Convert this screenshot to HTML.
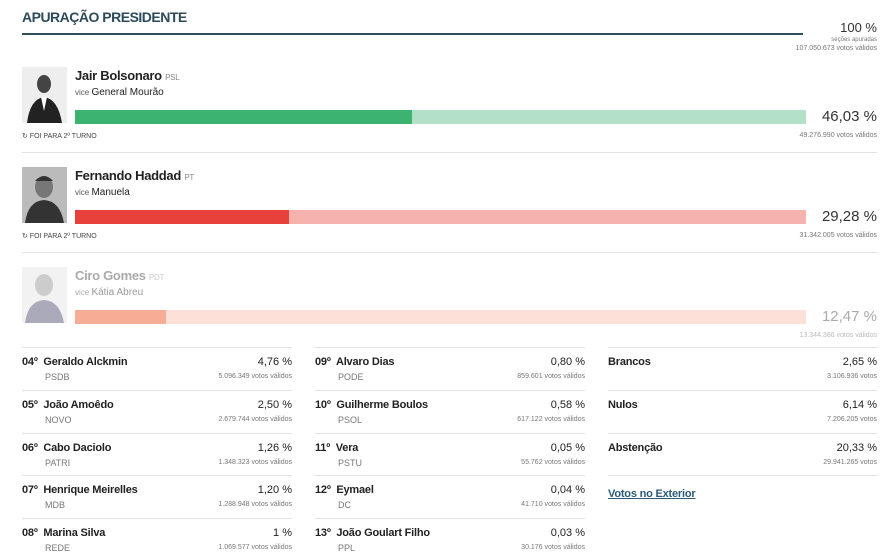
<!DOCTYPE html>
<html><head><meta charset="utf-8"><style>
*{margin:0;padding:0;box-sizing:border-box}
body{width:887px;height:559px;background:#fff;font-family:"Liberation Sans",sans-serif;color:#222;position:relative;overflow:hidden}
.a{position:absolute;white-space:nowrap}
.r{text-align:right}
.title{left:22px;top:9px;font-size:14px;font-weight:bold;color:#2c4a5a;letter-spacing:-0.5px}
.hl{left:22px;top:33px;width:781px;height:2px;background:#2f4f5f}
.sm{font-size:7px;color:#777}
.name{font-size:13px;font-weight:bold;letter-spacing:-0.3px}
.party{font-size:8px;color:#888;font-weight:normal}
.vice{font-size:8px;color:#555}
.vice b{font-size:10px;font-weight:normal;color:#222}
.pct{font-size:15px;color:#333;right:10px;width:80px}
.foi{font-size:7px;color:#444}
.sep{height:1px;background:#e3e3e3}
.ph{width:45px;height:56px;background:#ddd;overflow:hidden}
.ln{font-size:11px;font-weight:bold;color:#222;letter-spacing:-0.2px}
.lp{font-size:9px;color:#777}
.lpc{font-size:11px;color:#222}
.lv{font-size:7px;color:#777}
</style></head><body>
<div class="a title">APURAÇÃO PRESIDENTE</div>
<div class="a hl"></div>
<div class="a r" style="right:10px;top:20px;font-size:13px;color:#333">100 %</div>
<div class="a r sm" style="right:10px;top:37px;font-size:6px">seções apuradas</div>
<div class="a r sm" style="right:10px;top:45px">107.050.673 votos válidos</div>

<!-- Bolsonaro -->
<div class="a ph" style="left:22px;top:67px;background:#eee"><svg width="45" height="56"><ellipse cx="22" cy="17" rx="7" ry="9" fill="#444"/><path d="M5 56 Q8 32 22 30 Q36 32 40 56Z" fill="#222"/><path d="M19 30 L22 44 L25 30Z" fill="#fff"/></svg></div>
<div class="a name" style="left:75px;top:68px">Jair Bolsonaro <span class="party">PSL</span></div>
<div class="a vice" style="left:75px;top:87px">vice <b>General Mourão</b></div>
<div class="a" style="left:75px;top:110px;width:731px;height:14px;background:#b2e1c7"></div>
<div class="a" style="left:75px;top:110px;width:337px;height:14px;background:#3cb371"></div>
<div class="a r pct" style="top:108px">46,03 %</div>
<div class="a foi" style="left:22px;top:132px">↻ FOI PARA 2º TURNO</div>
<div class="a r sm" style="right:10px;top:132px">49.276.990 votos válidos</div>
<div class="a sep" style="left:22px;top:152px;width:855px"></div>

<!-- Haddad -->
<div class="a ph" style="left:22px;top:167px;background:#bbb"><svg width="45" height="56"><ellipse cx="22" cy="20" rx="9" ry="11" fill="#777"/><path d="M13 14 Q22 4 31 14Z" fill="#333"/><path d="M3 56 Q6 34 22 33 Q38 34 42 56Z" fill="#333"/></svg></div>
<div class="a name" style="left:75px;top:168px">Fernando Haddad <span class="party">PT</span></div>
<div class="a vice" style="left:75px;top:187px">vice <b>Manuela</b></div>
<div class="a" style="left:75px;top:210px;width:731px;height:14px;background:#f6b3ae"></div>
<div class="a" style="left:75px;top:210px;width:214px;height:14px;background:#e8413b"></div>
<div class="a r pct" style="top:208px">29,28 %</div>
<div class="a foi" style="left:22px;top:232px">↻ FOI PARA 2º TURNO</div>
<div class="a r sm" style="right:10px;top:232px">31.342.005 votos válidos</div>
<div class="a sep" style="left:22px;top:252px;width:855px"></div>

<!-- Ciro -->
<div class="a ph" style="left:22px;top:267px;background:#f2f2f2"><svg width="45" height="56"><ellipse cx="22" cy="18" rx="9" ry="11" fill="#ccc"/><path d="M3 56 Q6 34 22 33 Q38 34 42 56Z" fill="#aab"/></svg></div>
<div class="a name" style="left:75px;top:268px;color:#aaa">Ciro Gomes <span class="party" style="color:#ccc">PDT</span></div>
<div class="a vice" style="left:75px;top:287px;color:#aaa">vice <b style="color:#999">Kátia Abreu</b></div>
<div class="a" style="left:75px;top:310px;width:731px;height:14px;background:#fde1d9"></div>
<div class="a" style="left:75px;top:310px;width:91px;height:14px;background:#f7ad95"></div>
<div class="a r pct" style="top:308px;color:#aaa">12,47 %</div>
<div class="a r sm" style="right:10px;top:332px;color:#bbb">13.344.366 votos válidos</div>

<!-- separators -->
<div class="a sep" style="left:22px;top:347px;width:270px"></div>
<div class="a sep" style="left:315px;top:347px;width:270px"></div>
<div class="a sep" style="left:608px;top:347px;width:269px"></div>
<div class="a sep" style="left:22px;top:390px;width:270px"></div>
<div class="a sep" style="left:315px;top:390px;width:270px"></div>
<div class="a sep" style="left:608px;top:390px;width:269px"></div>
<div class="a sep" style="left:22px;top:433px;width:270px"></div>
<div class="a sep" style="left:315px;top:433px;width:270px"></div>
<div class="a sep" style="left:608px;top:433px;width:269px"></div>
<div class="a sep" style="left:22px;top:475px;width:270px"></div>
<div class="a sep" style="left:315px;top:475px;width:270px"></div>
<div class="a sep" style="left:608px;top:475px;width:269px"></div>
<div class="a sep" style="left:22px;top:518px;width:270px"></div>
<div class="a sep" style="left:315px;top:518px;width:270px"></div>

<!-- col1 -->
<div class="a ln" style="left:22px;top:356px">04º&nbsp; Geraldo Alckmin</div><div class="a lp" style="left:45px;top:372px">PSDB</div>
<div class="a r lpc" style="left:192px;width:100px;top:356px">4,76 %</div><div class="a r lv" style="left:152px;width:140px;top:373px">5.096.349 votos válidos</div>
<div class="a ln" style="left:22px;top:399px">05º&nbsp; João Amoêdo</div><div class="a lp" style="left:45px;top:415px">NOVO</div>
<div class="a r lpc" style="left:192px;width:100px;top:399px">2,50 %</div><div class="a r lv" style="left:152px;width:140px;top:416px">2.679.744 votos válidos</div>
<div class="a ln" style="left:22px;top:442px">06º&nbsp; Cabo Daciolo</div><div class="a lp" style="left:45px;top:458px">PATRI</div>
<div class="a r lpc" style="left:192px;width:100px;top:442px">1,26 %</div><div class="a r lv" style="left:152px;width:140px;top:459px">1.348.323 votos válidos</div>
<div class="a ln" style="left:22px;top:484px">07º&nbsp; Henrique Meirelles</div><div class="a lp" style="left:45px;top:500px">MDB</div>
<div class="a r lpc" style="left:192px;width:100px;top:484px">1,20 %</div><div class="a r lv" style="left:152px;width:140px;top:501px">1.288.948 votos válidos</div>
<div class="a ln" style="left:22px;top:527px">08º&nbsp; Marina Silva</div><div class="a lp" style="left:45px;top:543px">REDE</div>
<div class="a r lpc" style="left:192px;width:100px;top:527px">1 %</div><div class="a r lv" style="left:152px;width:140px;top:544px">1.069.577 votos válidos</div>

<!-- col2 -->
<div class="a ln" style="left:315px;top:356px">09º&nbsp; Alvaro Dias</div><div class="a lp" style="left:338px;top:372px">PODE</div>
<div class="a r lpc" style="left:485px;width:100px;top:356px">0,80 %</div><div class="a r lv" style="left:445px;width:140px;top:373px">859.601 votos válidos</div>
<div class="a ln" style="left:315px;top:399px">10º&nbsp; Guilherme Boulos</div><div class="a lp" style="left:338px;top:415px">PSOL</div>
<div class="a r lpc" style="left:485px;width:100px;top:399px">0,58 %</div><div class="a r lv" style="left:445px;width:140px;top:416px">617.122 votos válidos</div>
<div class="a ln" style="left:315px;top:442px">11º&nbsp; Vera</div><div class="a lp" style="left:338px;top:458px">PSTU</div>
<div class="a r lpc" style="left:485px;width:100px;top:442px">0,05 %</div><div class="a r lv" style="left:445px;width:140px;top:459px">55.762 votos válidos</div>
<div class="a ln" style="left:315px;top:484px">12º&nbsp; Eymael</div><div class="a lp" style="left:338px;top:500px">DC</div>
<div class="a r lpc" style="left:485px;width:100px;top:484px">0,04 %</div><div class="a r lv" style="left:445px;width:140px;top:501px">41.710 votos válidos</div>
<div class="a ln" style="left:315px;top:527px">13º&nbsp; João Goulart Filho</div><div class="a lp" style="left:338px;top:543px">PPL</div>
<div class="a r lpc" style="left:485px;width:100px;top:527px">0,03 %</div><div class="a r lv" style="left:445px;width:140px;top:544px">30.176 votos válidos</div>

<!-- col3 -->
<div class="a ln" style="left:608px;top:356px">Brancos</div>
<div class="a r lpc" style="left:777px;width:100px;top:356px">2,65 %</div><div class="a r lv" style="left:737px;width:140px;top:373px">3.106.936 votos</div>
<div class="a ln" style="left:608px;top:399px">Nulos</div>
<div class="a r lpc" style="left:777px;width:100px;top:399px">6,14 %</div><div class="a r lv" style="left:737px;width:140px;top:416px">7.206.205 votos</div>
<div class="a ln" style="left:608px;top:442px">Abstenção</div>
<div class="a r lpc" style="left:777px;width:100px;top:442px">20,33 %</div><div class="a r lv" style="left:737px;width:140px;top:459px">29.941.265 votos</div>
<div class="a ln" style="left:608px;top:488px;color:#2c5a7a;text-decoration:underline">Votos no Exterior</div>
</body></html>
